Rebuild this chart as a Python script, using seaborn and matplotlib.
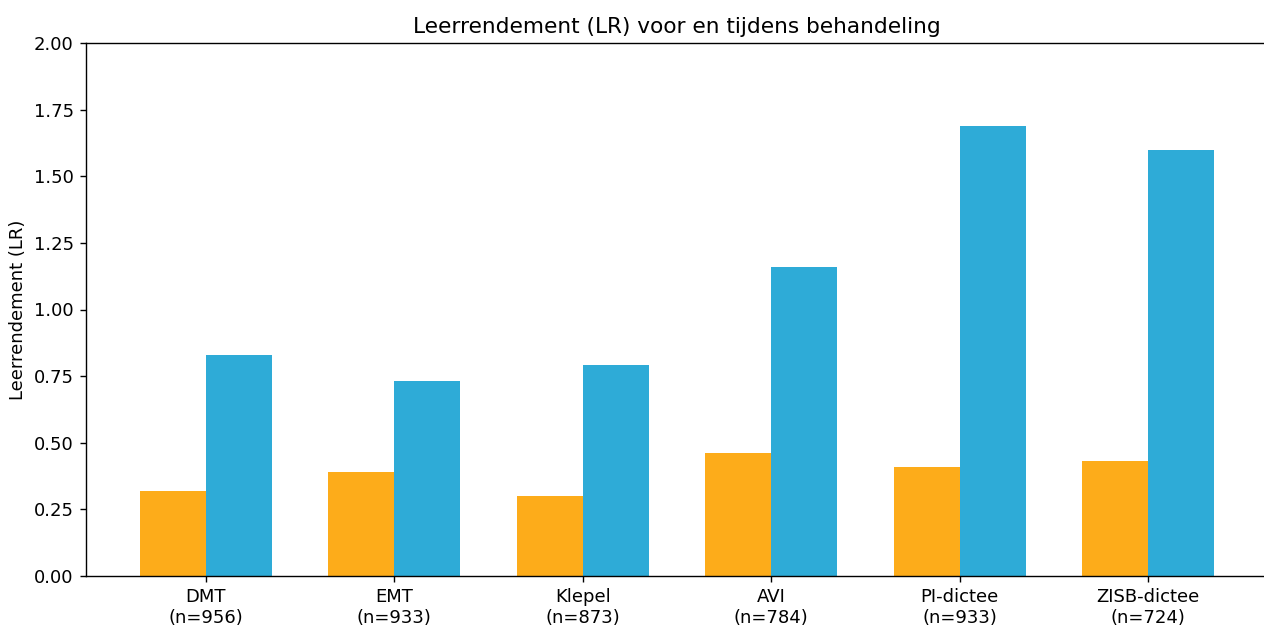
import pandas as pd
import matplotlib
matplotlib.use("Agg")
import matplotlib.pyplot as plt
import seaborn as sns

# Test names with sample sizes
tests = ["DMT", "EMT", "Klepel", "AVI", "PI-dictee", "ZISB-dictee"]
sizes = [956, 933, 873, 784, 933, 724]

# Learning yield before and during treatment
lr_voor = [0.32, 0.39, 0.30, 0.46, 0.41, 0.43]
lr_tijdens = [0.83, 0.73, 0.79, 1.16, 1.69, 1.60]

phases = ["Voor behandeling", "Tijdens behandeling"]
colors = ["#FDAC1A", "#2EABD7"]

labels = ["{}\n(n={})".format(t, n) for t, n in zip(tests, sizes)]

# Build long dataframe for seaborn
data = pd.DataFrame({
    "test": labels * 2,
    "fase": [phases[0]] * len(tests) + [phases[1]] * len(tests),
    "LR": lr_voor + lr_tijdens,
})

plt.rcParams["font.family"] = ["DejaVu Sans"]
plt.rcParams["font.size"] = 10.4

fig = plt.figure(figsize=(1264 / 125, 626 / 125), dpi=125)
ax = fig.add_axes([86 / 1264, 1 - 576 / 626, (1268 - 86) / 1264, (576 - 43) / 626])

sns.barplot(data=data, x="test", y="LR", hue="fase", palette=colors,
            width=0.7, saturation=1, legend=False, ax=ax)

ax.set_xlim(-0.635, len(tests) - 1 + 0.635)
ax.set_ylim(0, 2)
ax.set_yticks([0, 0.25, 0.5, 0.75, 1.0, 1.25, 1.5, 1.75, 2.0])
ax.set_yticklabels(["{:.2f}".format(v) for v in ax.get_yticks()])

ax.set_xlabel("")
ax.set_ylabel("Leerrendement (LR)")
ax.set_title("Leerrendement (LR) voor en tijdens behandeling", fontsize=12.45)

plt.savefig("out.png", dpi=125)
